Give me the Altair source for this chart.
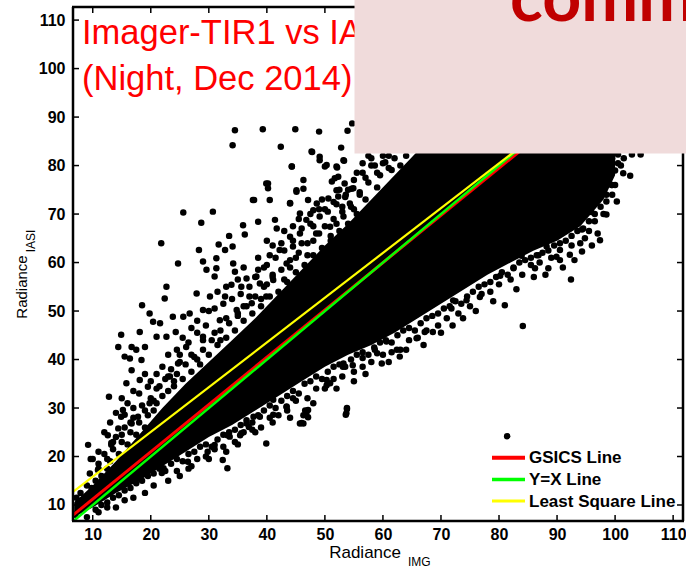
import altair as alt
import pandas as pd

# ---------------- data ----------------
X_DOMAIN = [6.6, 111.7]
Y_DOMAIN = [6.7, 112.7]
TICK_VALUES = [10, 20, 30, 40, 50, 60, 70, 80, 90, 100, 110]

# solid black core of the cloud (lower / upper edge)
core_x = [6.8, 10, 14, 18, 22, 26, 30, 34, 38, 42, 46, 50, 54, 58, 62, 66, 70, 74, 78, 82, 86, 90, 94, 98, 100]
core_lo = [7.5, 9.5, 12.5, 15, 18, 21, 24, 26.5, 29.5, 32.5, 35.5, 38.5, 41, 43, 45.5, 48.5, 51.5, 54.5, 57.5, 60, 62.5, 64.5, 67.5, 73, 78]
core_hi = [10.5, 14, 19, 24.5, 30, 35, 39.5, 44, 48.5, 53.5, 58.5, 63.5, 68, 73, 78, 83, 88, 90, 92, 92, 91, 90, 88, 86, 84]

# scattered dots above the band
upper_points = [
    (9.2, 22.4), (12.8, 32.3), (13.2, 22.4), (14.9, 28.2), (14.9, 45.1), (14.4, 42.6), (15.5, 40.6),
    (16.7, 42.6), (18.1, 45.7), (18.5, 51.2), (19.8, 49.5), (20.4, 47.8), (21.6, 47.5), (21.8, 64.0),
    (22.7, 55.0), (22.4, 52.6), (24.7, 59.8), (23.8, 48.8), (25.6, 70.3), (28.7, 68.2), (30.7, 70.5),
    (28.3, 62.6), (29.0, 60.2), (31.3, 60.9), (31.7, 63.7), (33.5, 65.5), (34.1, 63.3), (35.9, 67.7),
    (36.2, 65.8), (38.5, 68.4), (37.6, 72.9), (39.9, 76.3), (40.2, 75.3), (40.5, 72.9), (41.4, 68.8),
    (41.7, 67.0), (44.0, 72.2), (44.3, 79.8), (45.1, 74.6), (46.3, 77.0), (47.1, 72.9), (47.7, 82.9),
    (49.1, 81.8), (50.3, 80.1), (52.0, 79.8), (51.7, 77.4), (53.2, 81.1), (53.4, 76.3), (52.3, 73.6),
    (48.6, 72.2), (48.0, 70.8), (50.6, 73.2), (54.9, 75.3), (31.3, 58.8), (31.0, 57.1), (29.6, 58.5),
    (32.8, 62.6), (34.2, 59.8), (34.5, 58.1), (36.5, 56.7), (38.2, 57.1), (35.6, 55.0), (33.9, 55.4),
    (32.8, 53.0), (30.2, 53.0), (29.0, 50.2), (27.9, 53.6), (26.7, 49.5), (25.6, 48.8), (24.3, 45.7),
    (22.7, 44.7), (21.0, 44.7), (19.0, 42.6), (17.5, 42.0), (16.4, 40.2), (18.4, 39.9), (16.7, 37.8),
    (18.1, 35.8), (19.5, 34.4), (19.8, 31.0), (15.8, 35.1), (15.2, 29.6), (14.4, 25.8), (16.7, 26.8),
    (12.6, 24.4), (17.8, 28.2), (23.3, 36.5), (24.7, 39.2), (26.1, 42.6), (29.0, 44.7), (31.9, 48.1),
    (34.8, 50.2), (37.4, 51.6), (39.9, 53.0), (38.8, 55.7), (41.1, 56.4), (43.4, 59.8), (42.2, 62.6),
    (44.5, 63.3), (44.0, 65.3), (45.7, 66.0), (46.8, 68.8), (49.1, 69.5), (45.7, 70.1), (50.9, 67.4),
    (53.2, 69.5), (54.3, 72.2), (9.65, 19.5), (7.9, 12.5), (10.9, 17.2), (9.8, 13.5), (15.5, 28.6),
    (13.2, 22.8), (39.3, 87.5), (44.9, 87.5), (49.0, 87.0), (53.9, 87.2), (54.7, 88.7), (42.4, 83.9),
    (47.8, 82.8), (52.8, 83.7), (44.3, 79.8), (49.1, 81.1), (50.0, 79.8), (53.3, 81.0), (52.1, 79.6),
    (45.1, 74.9), (46.3, 75.2), (40.2, 76.3), (37.8, 72.9), (44.0, 72.3), (51.2, 76.7), (52.3, 77.7),
    (52.0, 74.9), (53.6, 74.0), (58.0, 81.5), (58.6, 80.0), (60.4, 80.7), (61.5, 79.1), (54.6, 75.2),
    (34.5, 87.3), (34.1, 84.2),
]

# semi-dense dots just above the core
upper_fringe = [
    (38, 57), (39.5, 59), (40.5, 61.5), (41, 63.5), (42.5, 64), (43, 66.5), (44.5, 67.5), (45.5, 69),
    (46, 64), (47.5, 70), (48, 67.5), (49.5, 73), (50, 71), (51.5, 72.5), (52.5, 75), (54, 75),
    (55.5, 78.5), (56.5, 80.5), (57.5, 82), (38.5, 61), (40, 64.5), (36, 59), (35, 56.5), (33, 55),
    (31.5, 54), (30, 50), (28, 48), (27, 46.5), (25.5, 44.5), (24.5, 42), (23, 41), (22, 38.5),
    (21, 37), (20, 35.5), (19, 37), (18, 33), (17, 33.5), (16, 31), (15, 32), (14, 29), (13, 27),
    (12, 25), (11, 21), (10, 19.5),
]

# dots hugging the upper edge of the core
upper_edge = [
    (9, 14), (9.5, 16.5), (10.5, 15), (11, 18.5), (11.5, 16), (12, 20.5), (12.5, 17.5), (13, 19),
    (13.5, 21.5), (14, 24), (14.5, 20.5), (15, 23), (15.5, 26), (16, 22.5), (16.5, 25), (17, 28),
    (17.5, 24.5), (18, 27), (18.5, 30.5), (19, 26), (19.5, 28.5), (20, 32), (20.5, 29.5), (21, 31),
    (21.5, 34.5), (22, 32.5), (22.5, 36), (23, 33.5), (23.5, 38), (24, 34.5), (24.5, 37), (25, 41),
    (25.5, 36), (26, 39), (26.5, 43.5), (27, 37.5), (27.5, 40.5), (28, 45.5), (28.5, 39), (29, 42),
    (29.5, 47), (30, 41), (30.5, 44), (31, 50.5), (31.5, 43), (32, 46), (32.5, 51.5), (33, 44.5),
    (33.5, 47.5), (34, 52.5), (34.5, 46), (35, 49.5), (35.5, 53.5), (36, 48), (36.5, 51), (37, 55),
    (37.5, 49.5), (38, 53), (38.5, 58.5), (39, 51), (39.5, 55), (40, 59.5), (40.5, 53), (41, 57),
    (41.5, 61), (42, 54), (42.5, 58.5), (43, 62.5), (43.5, 56), (44, 60.5), (44.5, 64.5), (45, 58),
    (45.5, 62), (46, 67), (46.5, 59.5), (47, 64), (47.5, 68), (48, 61.5), (48.5, 66), (49, 71),
    (49.5, 63), (50, 67.5), (50.5, 70.5), (51, 64.5), (51.5, 69), (52, 72), (52.5, 66.5), (53, 70.5),
    (53.5, 73.5), (54, 68), (54.5, 71.5), (55, 77), (55.5, 70), (56, 74.5), (56.5, 78.5), (57, 73),
    (57.5, 76.5), (58, 80), (59, 75.5), (59.5, 78), (60, 82), (61, 79.5), (62, 81.5), (63, 80), (64, 82),
    (11, 17.5), (12.5, 19.5), (13.5, 23), (15, 24.5), (16.5, 27), (17, 30), (19, 29.5), (20.5, 31.5),
    (21, 34), (23, 36.5), (24, 35.5), (25, 39.5), (27, 41), (28, 40), (29, 44), (31, 45.5), (32, 44),
    (33, 48.5), (35, 49), (36, 51), (37, 53), (39, 52.5), (40, 55.5), (41, 57.5), (43, 56.5), (44, 59),
    (45, 61), (47, 61.5), (48, 64.5), (49, 66), (51, 65.5), (52, 68), (53, 71.5), (55, 71), (56, 74),
    (57, 77.5), (59, 78.5), (60, 80.5), (61, 82),
]

# dots hugging the lower edge of the core
lower_edge = [
    (10.5, 9), (11.5, 10), (12.5, 10.5), (13.5, 11.5), (14.5, 12), (15.5, 13), (16.5, 13.5), (17.5, 14.5),
    (18.5, 15), (19.5, 16), (20.5, 16.5), (21.5, 17.5), (22.5, 17), (23.5, 18.5), (24.5, 19.5), (25.5, 19),
    (26.5, 20.5), (27.5, 21), (28.5, 22), (29.5, 22.5), (30.5, 22), (31.5, 23.5), (32.5, 24.5), (33.5, 25),
    (34.5, 25.5), (35.5, 26.5), (36.5, 27.5), (37.5, 27), (38.5, 28.5), (39.5, 29.5), (40.5, 30.5),
    (41.5, 30), (42.5, 31.5), (43.5, 32.5), (44.5, 33.5), (45.5, 33), (46.5, 35), (47.5, 35.5),
    (48.5, 36.5), (49.5, 36), (50.5, 37.5), (51.5, 38.5), (52.5, 39), (53.5, 38.5), (54.5, 40), (55.5, 41),
    (56.5, 41.5), (57.5, 41), (58.5, 42.5), (59.5, 43.5), (60.5, 44), (61.5, 43.5), (62.5, 45), (63.5, 46),
    (64.5, 46.5), (65.5, 46), (66.5, 47.5), (67.5, 48.5), (68.5, 49), (69.5, 49.5), (70.5, 50.5),
    (71.5, 51), (72.5, 52), (73.5, 51.5), (74.5, 53), (75.5, 54), (76.5, 55), (77.5, 55.5), (78.5, 56),
    (79.5, 57), (80.5, 58), (81.5, 57.5), (82.5, 59), (83.5, 60), (84.5, 60.5), (85.5, 61), (86.5, 61.5),
    (87.5, 62), (88.5, 62.5), (89.5, 63.5), (90.5, 64), (91.5, 64.5), (92.5, 65.5), (93.5, 66.5),
    (94.5, 67), (95.5, 68.5), (96.5, 70), (97.5, 71.5), (98.5, 74), (99.5, 76), (100, 79), (100.5, 80.5),
    (101.5, 81.5),
    (9, 7.5), (11, 8.5), (12.5, 9.5), (14, 9.5), (15.5, 11), (17, 11.5), (19, 12.5), (20.5, 14),
    (23, 15), (24.5, 17), (26.5, 17.5), (28, 19.5), (29.5, 20), (31, 21.5), (32.5, 22), (34.5, 23),
    (36, 25), (37.5, 25.5), (39, 26), (40.5, 28), (42, 28.5), (43.5, 29.5), (45, 31.5), (47, 32),
    (48.5, 34), (50, 34), (51.5, 36), (53, 36.5), (55, 37.5), (56.5, 38.5), (58, 39.5), (60, 41),
    (61.5, 41.5), (63, 42), (64.5, 44), (66, 44.5), (67.5, 46), (69.5, 47), (71, 48.5), (73, 49.5),
    (75, 51), (77, 53.5), (78.5, 54), (80, 55.5), (82, 56.5), (84, 57.5), (85.5, 59.5), (87, 60),
    (89, 61), (90.5, 60.5), (92.5, 63.5), (94, 64), (95.5, 66.5), (96.5, 68.5), (98, 70), (99.5, 74),
    (100, 76), (101, 80), (99.5, 81.5), (100.5, 82.3), (7, 8), (7.5, 10.5), (8, 9), (7.2, 11.5),
]

# loose dots a little below the core
lower_fringe = [
    (25, 16), (27, 18), (30, 19.5), (33, 21), (35, 22.5), (38, 25), (41, 27), (44, 28), (48, 31),
    (52, 34), (55, 35.5), (57, 37), (61, 39.5), (64, 42), (67, 43), (70, 45.5), (72, 47), (76, 50),
    (79, 52), (83, 54.5), (86, 57), (88, 57.5), (91, 59), (93, 60.5), (96, 63.5), (97, 66),
]

# scattered dots below the band
lower_points = [
    (39.9, 22.7), (46.8, 28.9), (53.7, 28.9), (46.3, 26.8), (43.4, 30.3), (35.6, 24.8), (31.0, 22.4),
    (44.5, 32.0), (50.9, 35.1), (53.2, 39.2), (38.8, 28.2), (41.1, 31.7), (36.5, 26.8), (33.6, 24.1),
    (12.4, 14.5), (32.4, 19.3), (33.2, 17.6), (30.9, 22.0), (29.8, 21.0), (26.4, 18.9), (22.2, 17.6),
    (21.9, 16.6), (33.2, 24.4), (35.4, 24.4), (38.8, 31.0), (41.1, 28.6), (43.4, 30.2), (46.0, 26.9),
    (47.1, 28.1), (47.1, 29.6), (53.6, 28.6), (53.8, 30.0), (81.4, 24.2), (36.9, 26.1), (37.7, 28.2),
    (45.7, 26.8), (46.3, 28.5), (46.6, 29.5), (53.8, 29.8), (62.9, 40.6), (59.8, 39.2), (62.4, 42.0),
    (60.6, 43.7), (58.6, 42.0), (65.8, 44.4), (67.2, 45.7), (68.6, 45.7), (73.8, 48.5), (71.8, 50.5),
    (72.1, 52.2), (74.4, 52.2), (76.7, 52.9), (81.0, 51.2), (84.1, 46.9), (80.2, 57.3), (82.5, 58.8),
    (81.9, 61.0), (86.2, 58.8), (88.5, 58.8), (92.4, 56.5), (86.8, 61.5), (83.9, 61.4), (89.9, 61.2),
    (92.2, 61.6), (94.3, 62.3), (97.4, 64.6), (94.3, 66.8), (93.4, 69.5), (95.9, 70.4), (98.5, 69.9),
    (100.3, 72.6), (98.5, 72.6), (99.4, 76.0), (101.4, 78.4), (102.6, 77.9), (102.9, 82.3), (104.4, 82.3),
    (96.2, 73.3), (94.8, 65.0), (90.5, 62.6), (88.2, 63.3), (50.3, 35.8), (50.3, 34.7), (53.1, 38.5),
    (54.8, 38.8), (56.5, 40.3), (59.0, 41.3),
]

# fitted lines (end points)
line_x = [6.6, 111.7]
gsics_y = [7.9, 110.4]
yx_y = [6.6, 111.7]
lsq_y = [12.7, 109.7]

legend_labels = ["GSICS Line", "Y=X Line", "Least Square Line"]
legend_colors = ["#FF0000", "#00FF00", "#FFFF00"]
legend_widths = [4, 3.5, 3]

title_lines = ["Imager-TIR1 vs IASI", "(Night, Dec 2014)"]
overlay_text = "comments"

# ---------------- chart ----------------
W, H = 610, 514
FONT = "Liberation Sans"

xs = alt.Scale(domain=X_DOMAIN, nice=False, zero=False)
ys = alt.Scale(domain=Y_DOMAIN, nice=False, zero=False)
x_axis = alt.Axis(values=TICK_VALUES, title=None, grid=False, domain=False, ticks=False, tickSize=0,
                  labelFont=FONT, labelFontSize=16, labelFontWeight="bold", labelColor="black",
                  labelPadding=5, labelFlush=False)
y_axis = alt.Axis(values=TICK_VALUES, title=None, grid=False, domain=False, ticks=False, tickSize=0,
                  labelFont=FONT, labelFontSize=16, labelFontWeight="bold", labelColor="black",
                  labelPadding=8, labelFlush=False)


def X(field):
    return alt.X(field, type="quantitative", scale=xs, axis=x_axis)


def Y(field):
    return alt.Y(field, type="quantitative", scale=ys, axis=y_axis)


one = pd.DataFrame({"a": [0]})

core_df = pd.DataFrame({"x": core_x, "lo": core_lo, "hi": core_hi})
all_pts = upper_points + upper_fringe + upper_edge + lower_edge + lower_fringe + lower_points
pts_df = pd.DataFrame({"x": [p[0] for p in all_pts], "y": [p[1] for p in all_pts]})

core = alt.Chart(core_df).mark_area(color="black", clip=True).encode(
    x=X("x"), y=Y("lo"), y2="hi")

scatter = alt.Chart(pts_df).mark_circle(size=42, color="black", opacity=1).encode(
    x=X("x"), y=Y("y"))


def fit_line(yvals, color, width):
    df = pd.DataFrame({"x": line_x, "y": yvals})
    return alt.Chart(df).mark_line(color=color, strokeWidth=width, clip=True).encode(
        x=X("x"), y=Y("y"))


lines = [
    fit_line(gsics_y, legend_colors[0], 3),
    fit_line(yx_y, legend_colors[1], 2.5),
    fit_line(lsq_y, legend_colors[2], 2.2),
]

tick_df = pd.DataFrame({"t": TICK_VALUES})
TL = 6
ticks = [
    alt.Chart(tick_df).mark_rule(color="black", strokeWidth=1.5).encode(
        x=X("t"), y=alt.value(H), y2=alt.value(H - TL)),
    alt.Chart(tick_df).mark_rule(color="black", strokeWidth=1.5).encode(
        x=X("t"), y=alt.value(0), y2=alt.value(TL)),
    alt.Chart(tick_df).mark_rule(color="black", strokeWidth=1.5).encode(
        y=Y("t"), x=alt.value(0), x2=alt.value(TL)),
    alt.Chart(tick_df).mark_rule(color="black", strokeWidth=1.5).encode(
        y=Y("t"), x=alt.value(W), x2=alt.value(W - TL)),
]

frame = [
    alt.Chart(one).mark_rule(color="black", strokeWidth=2.5).encode(
        x=alt.value(-1), x2=alt.value(W + 1), y=alt.value(0)),
    alt.Chart(one).mark_rule(color="black", strokeWidth=2.5).encode(
        x=alt.value(-1), x2=alt.value(W + 1), y=alt.value(H)),
    alt.Chart(one).mark_rule(color="black", strokeWidth=2.5).encode(
        x=alt.value(0), y=alt.value(0), y2=alt.value(H)),
    alt.Chart(one).mark_rule(color="black", strokeWidth=2.5).encode(
        x=alt.value(W), y=alt.value(0), y2=alt.value(H)),
]

legend = []
for i, (lab, col, lw) in enumerate(zip(legend_labels, legend_colors, legend_widths)):
    yy = 450.7 + 21.7 * i
    legend.append(alt.Chart(one).mark_rule(color=col, strokeWidth=lw).encode(
        x=alt.value(419), x2=alt.value(452), y=alt.value(yy)))
    legend.append(alt.Chart(one).mark_text(
        font=FONT, fontSize=17, fontWeight="bold", color="black", align="left", baseline="middle"
    ).encode(x=alt.value(456), y=alt.value(yy + 0.5), text=alt.value(lab)))

titles = [
    alt.Chart(one).mark_text(font=FONT, fontSize=34.5, color="#FF0000", align="left",
                             baseline="alphabetic").encode(
        x=alt.value(9), y=alt.value(37 + 46 * i), text=alt.value(t))
    for i, t in enumerate(title_lines)
]

pink = alt.Chart(one).mark_rect(color="#F0DBDB", opacity=1).encode(
    x=alt.value(281.5), x2=alt.value(W + 10), y=alt.value(-10), y2=alt.value(146.5))

overlay = alt.Chart(one).mark_text(font="Lato", fontSize=68, fontWeight="bold", color="#C00000",
                                   align="left", baseline="alphabetic").encode(
    x=alt.value(437), y=alt.value(13.5), text=alt.value(overlay_text))

axis_titles = [
    alt.Chart(one).mark_text(font=FONT, fontSize=17, color="black", align="right",
                             baseline="alphabetic").encode(
        x=alt.value(328), y=alt.value(551), text=alt.value("Radiance")),
    alt.Chart(one).mark_text(font=FONT, fontSize=12, color="black", align="left",
                             baseline="alphabetic").encode(
        x=alt.value(335), y=alt.value(559), text=alt.value("IMG")),
    alt.Chart(one).mark_text(font=FONT, fontSize=15, color="black", align="center",
                             baseline="alphabetic", angle=270).encode(
        x=alt.value(-46), y=alt.value(280), text=alt.value("Radiance")),
    alt.Chart(one).mark_text(font=FONT, fontSize=12, color="black", align="center",
                             baseline="alphabetic", angle=270).encode(
        x=alt.value(-38), y=alt.value(234), text=alt.value("IASI")),
]

chart = alt.layer(
    core, scatter, *lines, *ticks, *frame, *legend, *titles, pink, overlay, *axis_titles
).properties(
    width=W, height=H,
    autosize=alt.AutoSizeParams(type="none"),
    padding={"left": 73, "top": 7, "right": 3, "bottom": 51},
    background="white",
).configure_view(strokeWidth=0)

chart.save("out.html", embed_options={"renderer": "svg", "actions": False})
